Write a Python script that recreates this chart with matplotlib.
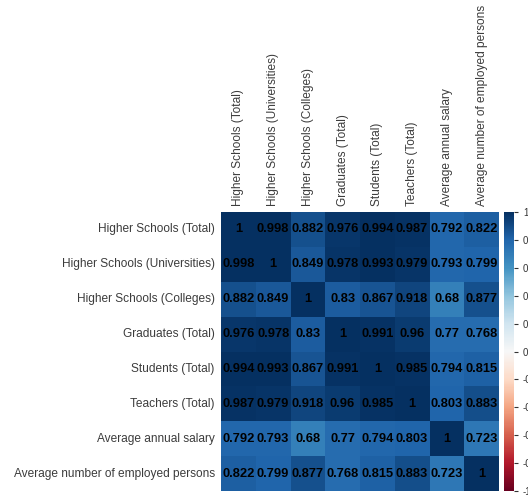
import matplotlib
matplotlib.use("Agg")
import matplotlib.pyplot as plt
import numpy as np
import seaborn as sns

labels = [
    "Higher Schools (Total)",
    "Higher Schools (Universities)",
    "Higher Schools (Colleges)",
    "Graduates (Total)",
    "Students (Total)",
    "Teachers (Total)",
    "Average annual salary",
    "Average number of employed persons",
]

corr = [
    [1, 0.998, 0.882, 0.976, 0.994, 0.987, 0.792, 0.822],
    [0.998, 1, 0.849, 0.978, 0.993, 0.979, 0.793, 0.799],
    [0.882, 0.849, 1, 0.83, 0.867, 0.918, 0.68, 0.877],
    [0.976, 0.978, 0.83, 1, 0.991, 0.96, 0.77, 0.768],
    [0.994, 0.993, 0.867, 0.991, 1, 0.985, 0.794, 0.815],
    [0.987, 0.979, 0.918, 0.96, 0.985, 1, 0.803, 0.883],
    [0.792, 0.793, 0.68, 0.77, 0.794, 0.803, 1, 0.723],
    [0.822, 0.799, 0.877, 0.768, 0.815, 0.883, 0.723, 1],
]

cbar_ticks = [-1, -0.8, -0.6, -0.4, -0.2, 0, 0.2, 0.4, 0.6, 0.8, 1]

sns.set_style("white")
plt.rcParams["font.family"] = ["Liberation Sans", "DejaVu Sans"]

fig = plt.figure(figsize=(5.28, 4.97), dpi=100)
ax = fig.add_axes([221 / 528, 6 / 497, 278 / 528, 279 / 497])
cax = fig.add_axes([504 / 528, 6 / 497, 10 / 528, 279 / 497])

sns.heatmap(
    np.array(corr),
    ax=ax,
    cbar_ax=cax,
    cmap="RdBu",
    vmin=-1,
    vmax=1,
    annot=True,
    fmt="g",
    annot_kws={"fontsize": 9.3, "fontweight": "bold", "color": "black"},
    xticklabels=labels,
    yticklabels=labels,
    cbar_kws={"ticks": cbar_ticks},
)

ax.xaxis.tick_top()
ax.tick_params(axis="both", length=0, pad=4.5, labelsize=8.55, labelcolor="#3c3c3c")
plt.setp(ax.get_xticklabels(), rotation=90)
plt.setp(ax.get_yticklabels(), rotation=0)

cax.tick_params(length=3, width=0.8, color="#333333", labelsize=7, labelcolor="#333333")
cax.set_yticklabels([f"{t:g}" for t in cbar_ticks])

fig.savefig("out.png", dpi=100)
